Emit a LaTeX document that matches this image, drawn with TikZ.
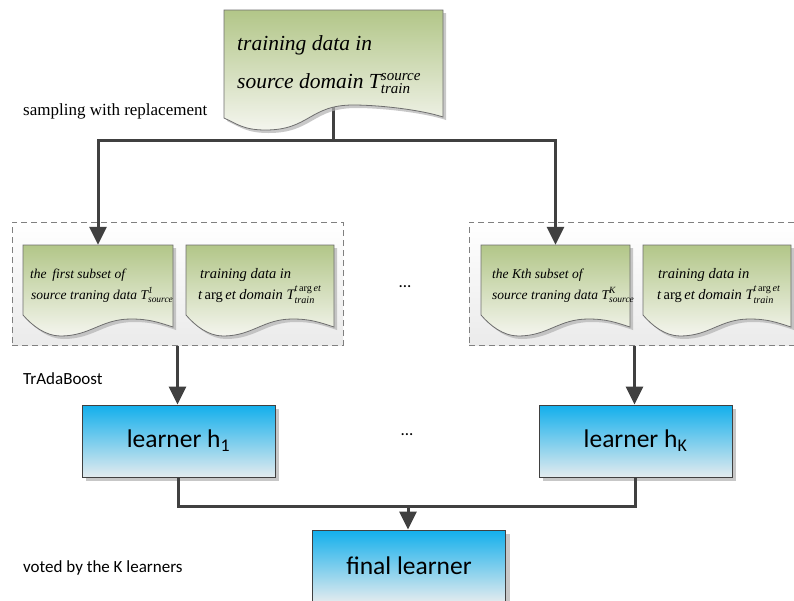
\documentclass[tikz,border=0pt]{standalone}
\usepackage{fontspec}
\usepackage{amsmath}
\setmainfont{Liberation Serif}
\newfontfamily\calib{Carlito}
\usetikzlibrary{arrows.meta,shadows,calc}

\definecolor{lineC}{HTML}{404040}
\definecolor{docLine}{HTML}{6E6E6E}
\definecolor{greenTop}{HTML}{B2C688}
\definecolor{greenBot}{HTML}{F4F5EE}
\definecolor{blueTop}{HTML}{12AFEC}
\definecolor{blueBot}{HTML}{E3EBEE}
\definecolor{dashC}{HTML}{808080}

\newcommand\Tsub[2]{T$^{\text{#1}}_{\text{#2}}$}
\newcommand\targ{t\,{\upshape arg}\,et}

% #1 x1, #2 y1, #3 x2, #4 L, #5 D, #6 P, #7 R, #8 uD, #9 uP
\newcommand\docshape[9]{%
  \pgfmathsetmacro\docW{#3-#1}%
  \pgfmathsetmacro\docXD{#1+#8*\docW}%
  \pgfmathsetmacro\docXP{#1+#9*\docW}%
  \path[docstyle] (#1,#2) -- (#3,#2) -- (#3,#7)
    .. controls ({#3-0.1*\docW},{#7-0.6*(#7-#6)}) and ({\docXP+0.12*\docW},#6) .. (\docXP,#6)
    .. controls ({\docXP-0.2*\docW},#6) and ({\docXD+0.2*\docW},#5) .. (\docXD,#5)
    .. controls ({\docXD-0.1*\docW},#5) and ({#1+0.06*\docW},{#4+0.5*(#5-#4)}) .. (#1,#4)
    -- cycle;}

\tikzset{
  conn/.style={draw=lineC, line width=3pt},
  arr/.style={conn, -{Triangle[width=17pt,length=18pt]}},
  docstyle/.style={draw=docLine, line width=0.8pt, top color=greenTop, bottom color=greenBot,
    drop shadow={shadow xshift=3pt, shadow yshift=-3pt, fill=black!30, opacity=0.7}},
  grpbox/.style={draw=dashC, dash pattern=on 6pt off 4pt, line width=1pt, top color=white,
    bottom color=black!8, minimum width=331pt, minimum height=123pt, inner sep=0},
  learner/.style={draw=lineC, line width=1pt, top color=blueTop, bottom color=blueBot,
    minimum width=193pt, minimum height=72pt, inner sep=0,
    font=\calib\fontsize{25.5}{30}\selectfont,
    drop shadow={shadow xshift=4pt, shadow yshift=-4pt, fill=black!22, opacity=1}},
  docanchor/.style={inner sep=0, minimum width=150pt, minimum height=70pt},
  bigtxt/.style={inner sep=0, anchor=base west, font=\itshape\fontsize{21.5}{26}\selectfont},
  smalltxt/.style={inner sep=0, anchor=base west, font=\itshape\fontsize{13.5}{16}\selectfont},
  midtxt/.style={inner sep=0, anchor=base west, font=\itshape\fontsize{14.5}{17}\selectfont},
  lbl/.style={inner sep=0, anchor=base west, font=\calib\fontsize{17}{20}\selectfont},
  serlbl/.style={inner sep=0, anchor=base west, font=\fontsize{17}{20}\selectfont},
  dotstxt/.style={inner sep=0, font=\calib\fontsize{17}{20}\selectfont}
}

\begin{document}
\begin{tikzpicture}[x=1pt,y=-1pt]
\fill[white] (0,0) rectangle (794,600);
\clip (0,0) rectangle (794,600);

% group boxes
\node[grpbox] (g1) at (177.5,283.5) {};
\node[grpbox] (gK) at (634.5,283.5) {};

% invisible anchor nodes for documents
\node[inner sep=0, minimum width=219pt, minimum height=108pt] (src) at (333.5,64) {};
\node[docanchor] (d1) at (98,280) {};
\node[docanchor] (d2) at (260,280) {};
\node[docanchor] (dK) at (555.5,280) {};
\node[docanchor] (dT) at (717,280) {};
\coordinate (srcout) at (333.5,100);
\coordinate (split) at (333.5,140);

% connectors from source
\draw[conn] (srcout) -- (split);
\draw[arr] (split) -| (d1.north);
\draw[arr] (split) -| (dK.north);

% documents
\docshape{224}{10}{443}{118}{130}{105}{117}{0.19}{0.59}
\docshape{23}{245}{173}{315}{336}{319}{327}{0.25}{0.72}
\docshape{186}{245}{334}{315}{336}{319}{327}{0.25}{0.72}
\docshape{481}{245}{630}{315}{336}{319}{327}{0.25}{0.72}
\docshape{643}{245}{791}{315}{336}{319}{327}{0.25}{0.72}

% document texts
\node[bigtxt] (s1) at (237,50.5) {training data in};
\node[bigtxt] (s2) at (237,88) {source domain \Tsub{source}{train}};
\node[smalltxt] (a1) at (30,278) {the\, first subset of};
\node[smalltxt] (a2) at (31,299) {source traning data \Tsub{1}{source}};
\node[midtxt] (b1) at (200,278) {training data in};
\node[midtxt] (b2) at (198,299) {\targ\ domain \Tsub{\targ}{train}};
\node[smalltxt] (c1) at (492,278) {the Kth subset of};
\node[smalltxt] (c2) at (492,299) {source traning data \Tsub{K}{source}};
\node[midtxt] (e1) at (658,278) {training data in};
\node[midtxt] (e2) at (657,299) {\targ\ domain \Tsub{\targ}{train}};

% learners
\node[learner] (h1) at (178.5,441) {learner h\textsubscript{1}};
\node[learner] (hK) at (635.5,441) {learner h\textsubscript{K}};
\node[learner] (fin) at (409,566) {final learner};

\draw[arr] (g1.south) -- (g1.south |- h1.north);
\draw[arr] (gK.south) -- (gK.south |- hK.north);

\coordinate (merge) at (408,506);
\draw[conn] (h1.south) |- (merge);
\draw[conn] (hK.south) |- (merge);
\draw[arr] (merge) -- (merge |- fin.north);

% dots
\node[dotstxt] (dots1) at (405,287) {...};
\node[dotstxt] (dots2) at (407,435) {...};

% side labels
\node[serlbl] (l1) at (23,115) {sampling with replacement};
\node[lbl] (l2) at (23,384) {TrAdaBoost};
\node[lbl] (l3) at (23,572) {voted by the K learners};
\end{tikzpicture}
\end{document}
